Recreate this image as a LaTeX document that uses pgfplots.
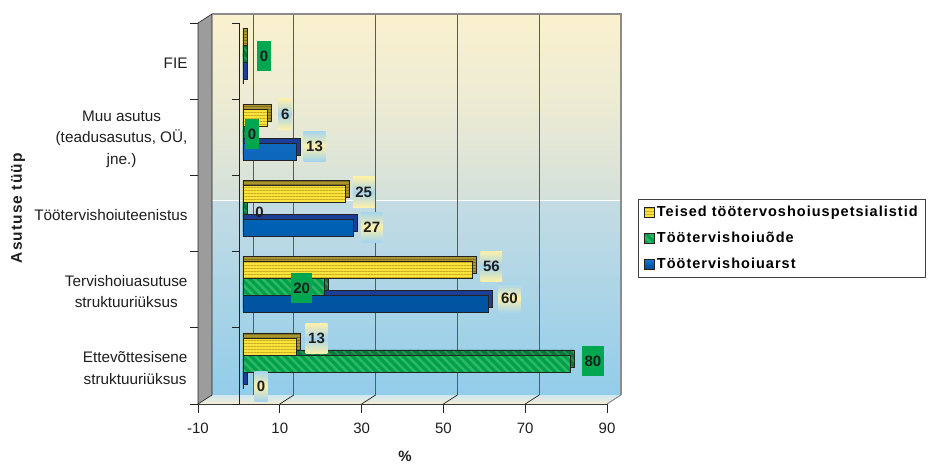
\documentclass[border=0pt]{standalone}
\usepackage{pgfplots}
\pgfplotsset{compat=1.18}
\usepackage{pgfplotstable}
\usetikzlibrary{patterns.meta}
\usepackage{fontspec}
\setmainfont{Liberation Sans}
\newfontfamily\legfont[LetterSpace=7]{Liberation Sans}

\definecolor{wallcream}{RGB}{250,241,206}
\definecolor{wallmidc}{RGB}{236,235,212}
\definecolor{wallmid}{RGB}{211,224,218}
\definecolor{wallblue1}{RGB}{196,220,228}
\definecolor{wallblue2}{RGB}{146,205,234}
\definecolor{floorA}{RGB}{206,230,242}
\definecolor{floorB}{RGB}{244,238,208}
\definecolor{sidegray}{RGB}{156,156,156}
\definecolor{edgegray}{RGB}{140,140,140}
\definecolor{gridgray}{RGB}{90,90,90}
\definecolor{ylwfront}{RGB}{248,228,60}
\definecolor{ylwstripe}{RGB}{206,172,32}
\definecolor{ylwdepth}{RGB}{170,150,45}
\definecolor{ylwdepthstripe}{RGB}{125,108,30}
\definecolor{grnfront}{RGB}{0,160,74}
\definecolor{grnstripe}{RGB}{45,184,101}
\definecolor{grndepth}{RGB}{10,118,60}
\definecolor{grndepthstripe}{RGB}{30,150,80}
\definecolor{blutop}{RGB}{30,115,200}
\definecolor{blumid}{RGB}{0,96,178}
\definecolor{blubot}{RGB}{0,72,145}
\definecolor{bludepth}{RGB}{28,62,150}
\definecolor{barline}{RGB}{35,35,35}
\definecolor{lblyellow}{RGB}{252,240,170}
\definecolor{lblblue}{RGB}{166,212,238}
\definecolor{lblgreen}{RGB}{0,166,80}
\definecolor{txt}{RGB}{30,30,30}

% y: category (0 = Ettevõttesisene ... 4 = FIE), v: percent
% dx, dy: label offset (pt), op: label box opacity, tx: label text opacity
\pgfplotstableread{
y v  dx   dy   op tx
0 13 9.4  27.4 1 1
1 56 8.4  23.7 1 1
2 25 7.5  21.5 1 1
3 6  10.9 23.3 1 1
4 0  0    0    0 0
}\teised
\pgfplotstableread{
y v  dx    dy   op tx
0 80 11.7  4.9  1 1
1 20 -34.1 1.7  1 1
2 0  9.8   1.5  0 1
3 0  2.3   3.3  1 1
4 0  14.3  4.6  1 1
}\ode
\pgfplotstableread{
y v  dx   dy    op tx
0 0  11.3 -20.1 1 1
1 60 10.1 -8.3  1 1
2 27 7.4  -13.5 1 1
3 13 7.4  -8.7  1 1
4 0  0    0     0 0
}\arst

\pgfplotsset{
  barbase/.style={xbar, bar width=17pt, xshift=4pt, draw=barline, line width=0.6pt},
  depthface/.style={barbase, yshift=5pt, forget plot},
  labels/.style={xbar, bar width=17pt, xshift=4pt, draw=none, fill=none, forget plot,
    point meta=x, nodes near coords,
    visualization depends on={\thisrow{dx}\as\ldx},
    visualization depends on={\thisrow{dy}\as\ldy},
    visualization depends on={\thisrow{op}\as\lop},
    visualization depends on={\thisrow{tx}\as\ltx},
    every node near coord/.append style={anchor=west, xshift=\ldx pt, yshift=\ldy pt,
      fill opacity=\lop, text opacity=\ltx, draw=none, text=txt,
      font=\fontsize{15}{18}\selectfont\bfseries,
      minimum height=30pt, inner xsep=2.5pt, inner ysep=0pt}},
}

\begin{document}
\begin{tikzpicture}
\path[use as bounding box] (0,0) rectangle (937pt,466pt);
\begin{axis}[
  at={(198pt,62pt)}, anchor=south west,
  scale only axis, width=409pt, height=381pt,
  clip=false,
  xmin=-10, xmax=90, ymin=-0.5, ymax=4.5,
  axis x line*=bottom, axis y line*=left,
  axis line style={draw=barline, line width=0.8pt},
  /pgf/number format/assume math mode=true,
  xtick={-10,10,30,50,70,90},
  xticklabels={-10,10,30,50,70,90},
  ytick={0,1,2,3,4},
  yticklabels={{Ettevõttesisene\\struktuuriüksus},{Tervishoiuasutuse\\struktuuriüksus},Töötervishoiuteenistus,{Muu asutus\\(teadusasutus, OÜ,\\jne.)},FIE},
  tick align=outside,
  major tick length=9pt,
  xtick style={draw=barline, line width=0.8pt},
  ytick style={draw=none},
  xticklabel style={font=\fontsize{15}{18}\selectfont, text=txt, yshift=-6pt},
  yticklabel style={font=\fontsize{15.3}{21.5}\selectfont, text=txt, align=center, xshift=2pt, yshift=-2pt},
  xlabel={\%},
  xlabel style={at={(axis description cs:0.506,-0.137)}, anchor=center, font=\fontsize{15}{18}\selectfont\bfseries, text=txt},
  ylabel={Asutuse tüüp},
  ylabel style={at={(axis description cs:-0.44,0.514)}, anchor=center, font=\legfont\fontsize{15.5}{18}\selectfont\bfseries, text=txt},
  legend style={at={(axis description cs:1.0758,0.538)}, anchor=north west,
    draw=black!75, line width=0.8pt, fill=white,
    font=\legfont\fontsize{14.5}{17}\selectfont\bfseries,
    inner xsep=6pt, inner ysep=5pt, row sep=10pt, cells={anchor=west}},
  legend image code/.code={\draw[#1, line width=0.5pt, xshift=-4pt] (0pt,-5pt) rectangle (10pt,5pt);},
  reverse legend,
]
% back wall
\fill[top color=wallblue1, bottom color=wallblue2]
  ([shift={(14pt,9pt)}]rel axis cs:0,0) rectangle ([shift={(14pt,9pt)}]rel axis cs:1,0.5092);
\fill[top color=wallcream, bottom color=wallmid, middle color=wallmidc]
  ([shift={(14pt,9pt)}]rel axis cs:0,0.5092) rectangle ([shift={(14pt,9pt)}]rel axis cs:1,1);
\draw[white, line width=1pt]
  ([shift={(14pt,9pt)}]rel axis cs:0,0.5092) -- ([shift={(14pt,9pt)}]rel axis cs:1,0.5092);
% floor
\fill[top color=floorA, bottom color=floorB]
  (rel axis cs:0,0) -- (rel axis cs:1,0) -- ([shift={(14pt,9pt)}]rel axis cs:1,0)
  -- ([shift={(14pt,9pt)}]rel axis cs:0,0) -- cycle;
% side wall
\filldraw[fill=sidegray, draw=barline, line width=0.6pt]
  (rel axis cs:0,0) -- (rel axis cs:0,1) -- ([shift={(14pt,9pt)}]rel axis cs:0,1)
  -- ([shift={(14pt,9pt)}]rel axis cs:0,0) -- cycle;
% grid on the back wall
\pgfplotsinvokeforeach{0,10,30,50,70}{
  \draw[gridgray, line width=0.8pt]
    ([shift={(14pt,9pt)}]axis cs:#1,-0.5) -- ([shift={(14pt,9pt)}]axis cs:#1,4.5);
}
\pgfplotsinvokeforeach{10,30,50,70}{
  \draw[barline, line width=0.7pt] (axis cs:#1,-0.5) -- ++(14pt,9pt);
}
% wall edges
\draw[edgegray, line width=2pt]
  ([shift={(14pt,9pt)}]rel axis cs:0,1) -- ([shift={(14pt,9pt)}]rel axis cs:1,1)
  -- ([shift={(14pt,9pt)}]rel axis cs:1,0);
\draw[edgegray, line width=1pt] (rel axis cs:1,0) -- ([shift={(14pt,9pt)}]rel axis cs:1,0);
% category boundaries on the left
\pgfplotsinvokeforeach{-0.5,0.5,1.5,2.5,3.5,4.5}{
  \draw[barline, line width=0.8pt] (axis cs:-10,#1) -- ++(-8pt,0pt);
  \draw[barline, line width=0.8pt] ([xshift=1pt]axis cs:0,#1) -- ++(-8pt,0pt);
}
\draw[barline, line width=0.9pt] ([xshift=1pt]axis cs:0,-0.5) -- ([xshift=1pt]axis cs:0,4.5);

% Töötervishoiuarst
\addplot[depthface, bar shift=-14.5pt, fill=bludepth] table[x expr=\thisrow{v}+1, y=y]{\arst};
\addplot[barbase, bar shift=-14.5pt, top color=blutop, bottom color=blubot, middle color=blumid] table[x=v, y=y]{\arst};
\addlegendentry{Töötervishoiuarst}
% Töötervishoiuõde
\addplot[depthface, bar shift=2.5pt, fill=grndepth,
  postaction={pattern={Lines[angle=-45, distance=6pt, line width=2pt]}, pattern color=grndepthstripe}]
  table[x expr=\thisrow{v}+1, y=y]{\ode};
\addplot[barbase, bar shift=2.5pt, fill=grnfront,
  postaction={pattern={Lines[angle=-45, distance=6pt, line width=2.5pt]}, pattern color=grnstripe}]
  table[x=v, y=y]{\ode};
\addlegendentry{Töötervishoiuõde}
% Teised töötervishoiuspetsialistid
\addplot[depthface, bar shift=19.5pt, fill=ylwdepth,
  postaction={pattern={Lines[angle=0, distance=3pt, line width=0.9pt]}, pattern color=ylwdepthstripe}]
  table[x expr=\thisrow{v}+1, y=y]{\teised};
\addplot[barbase, bar shift=19.5pt, fill=ylwfront,
  postaction={pattern={Lines[angle=0, distance=3pt, line width=0.9pt]}, pattern color=ylwstripe}]
  table[x=v, y=y]{\teised};
\addlegendentry{Teised töötervoshoiuspetsialistid}

% value labels
\addplot[labels, bar shift=-14.5pt,
  every node near coord/.append style={top color=lblblue, bottom color=lblblue, middle color=lblyellow}]
  table[x=v, y=y]{\arst};
\addplot[labels, bar shift=2.5pt,
  every node near coord/.append style={fill=lblgreen}]
  table[x=v, y=y]{\ode};
\addplot[labels, bar shift=19.5pt,
  every node near coord/.append style={top color=lblyellow, bottom color=lblyellow, middle color=lblblue}]
  table[x=v, y=y]{\teised};
\end{axis}
\end{tikzpicture}
\end{document}
